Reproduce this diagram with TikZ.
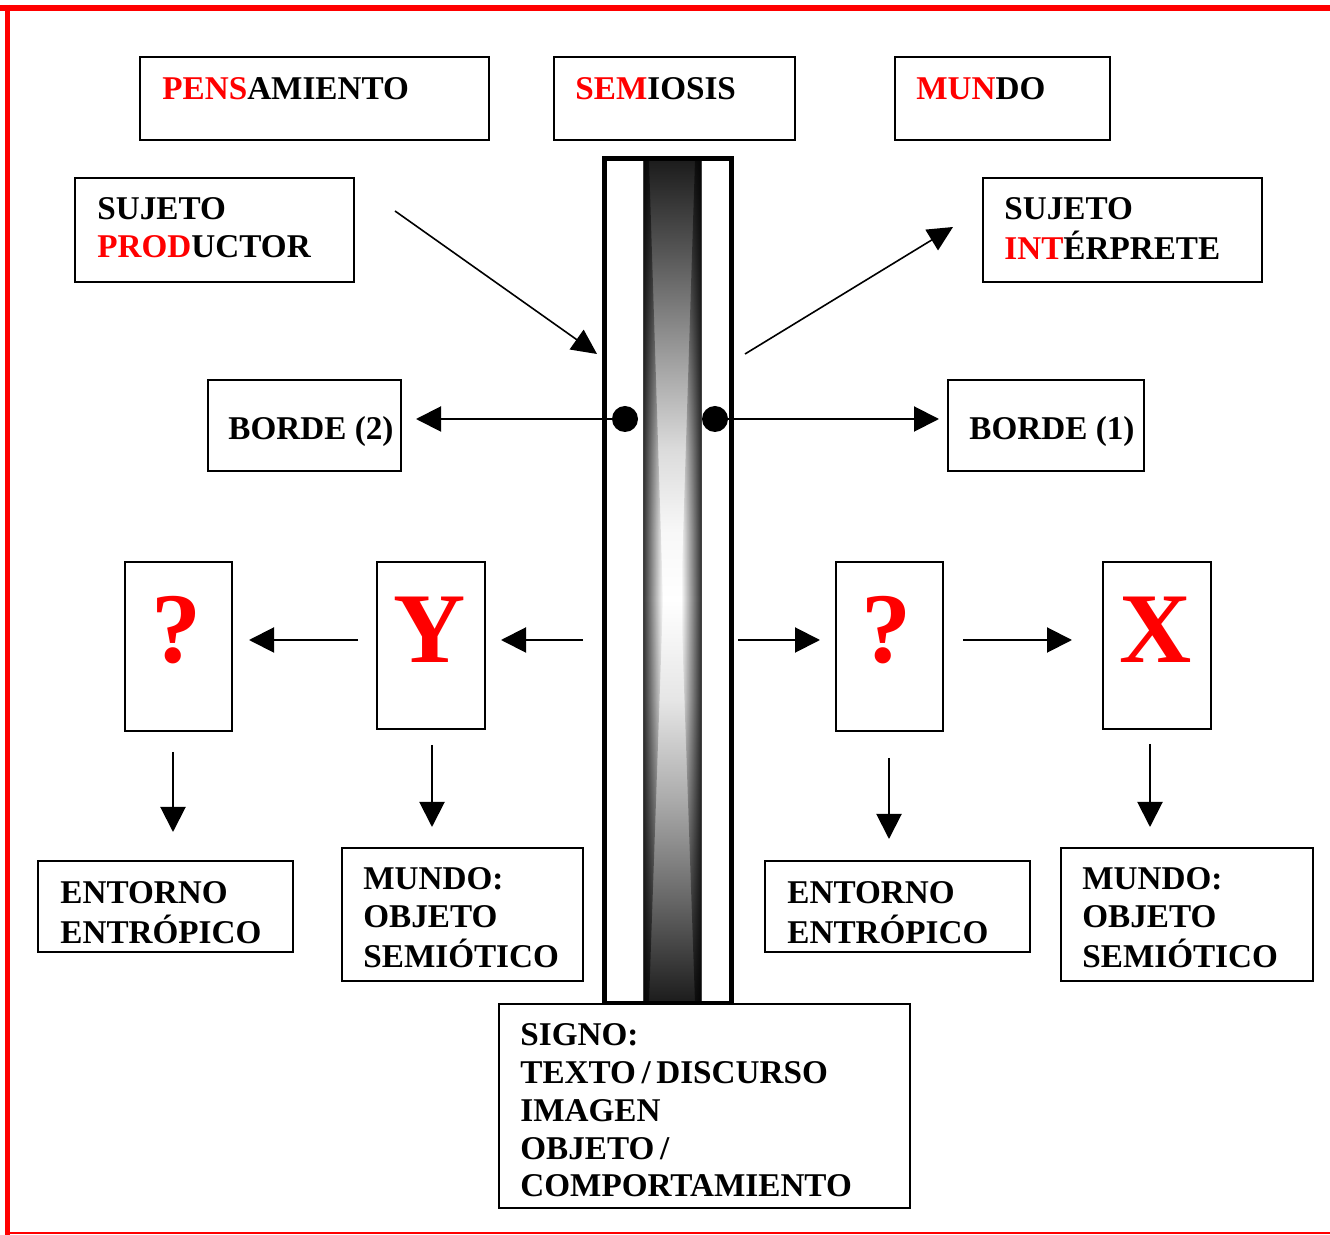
\documentclass[tikz,border=0pt]{standalone}
\usepackage{fontspec}
\setmainfont{Liberation Serif}
\usetikzlibrary{arrows.meta,fit,fadings}
\newcommand\mylines[1]{\begin{tabular}[t]{@{}l@{}}#1\end{tabular}}
\tikzfading[name=fadeR, left color=transparent!0, right color=transparent!100]
\tikzfading[name=fadeL, left color=transparent!100, right color=transparent!0]
\pgfdeclareverticalshading{barshade}{100bp}{color(0bp)=(black!89); color(25bp)=(black!89); color(31bp)=(black!60); color(37bp)=(black!33); color(42.9bp)=(black!10); color(48.9bp)=(white); color(53bp)=(black!3); color(57.8bp)=(black!14); color(63.7bp)=(black!40); color(69.7bp)=(black!67); color(75bp)=(black!89); color(100bp)=(black!89)}
\begin{document}
\begin{tikzpicture}[x=0.5pt,y=-0.5pt,
  box/.style={draw=black, line width=1pt, inner sep=0pt},
  txt/.style={anchor=base west, inner sep=0pt, font=\fontsize{16.6}{19}\selectfont\bfseries},
  big/.style={anchor=base, inner sep=0pt, text=red, font=\fontsize{50}{50}\selectfont\bfseries},
  arr/.style={line width=1pt, -{Triangle[length=12.5pt,width=12.5pt]}},
  thinarr/.style={line width=0.8pt, -{Triangle[length=12.5pt,width=12pt]}},
  dot/.style={circle, fill=black, inner sep=0pt, minimum size=13pt}]
\useasboundingbox (0,0) rectangle (1330,1235);
% frame
\draw[red, line width=3pt] (0,8) -- (1330,8);
\draw[red, line width=2.5pt] (7.5,5) -- (7.5,1235);
\draw[red, line width=1pt] (7.5,1233) -- (1330,1233);

% top boxes
\node[box, fit={(140,57) (489,140)}] (pens) {};
\node[txt] (pens-t) at (162,99.5) {\textcolor{red}{PENS}AMIENTO};
\node[box, fit={(554,57) (795,140)}] (semi) {};
\node[txt] (semi-t) at (575,99.5) {\textcolor{red}{SEM}IOSIS};
\node[box, fit={(895,57) (1110,140)}] (mundo) {};
\node[txt] (mundo-t) at (916,99.5) {\textcolor{red}{MUN}DO};

\node[box, fit={(75,178) (354,282)}] (prod) {};
\node[txt] (prod-t) at (97,220) {\mylines{SUJETO\\ \textcolor{red}{PROD}UCTOR}};
\node[box, fit={(983,178) (1262,282)}] (interp) {};
\node[txt] (interp-t) at (1004,220) {\mylines{SUJETO\\ \textcolor{red}{INT}ÉRPRETE}};

\node[box, fit={(208,380) (401,471)}] (b2) {};
\node[txt] (b2-t) at (228,440) {BORDE (2)};
\node[box, fit={(948,380) (1144,471)}] (b1) {};
\node[txt] (b1-t) at (969,440) {BORDE (1)};

% central bar
\shade[shading=barshade] (643,160) rectangle (701,1002);
\fill[black, path fading=fadeR, fill opacity=0.8] (643,160) -- (649,160) -- (663,600) -- (649,1002) -- (643,1002) -- cycle;
\fill[black, path fading=fadeL, fill opacity=0.8] (701,160) -- (695,160) -- (681,600) -- (695,1002) -- (701,1002) -- cycle;
\draw[black!75, line width=0.5pt] (643,160) rectangle (701,1002);
\node[draw, line width=2.5pt, inner sep=0pt, fit={(604.5,159) (731,1003)}] (bar) {};
\node[dot] (dotL) at (625,419) {};
\node[dot] (dotR) at (715,419) {};

% middle row boxes
\node[box, fit={(125,562) (232,731)}] (q1) {};
\node[big] (q1-t) at (176,663) {?};
\node[box, fit={(377,562) (485,729)}] (yb) {};
\node[big] (yb-t) at (430,663) {Y};
\node[box, fit={(836,562) (943,731)}] (q2) {};
\node[big] (q2-t) at (886,663) {?};
\node[box, fit={(1103,562) (1211,729)}] (xb) {};
\node[big] (xb-t) at (1156,663) {X};

% bottom boxes
\node[box, fit={(38,861) (293,952)}] (ent1) {};
\node[txt] (ent1-t) at (60,904) {\mylines{ENTORNO\\ ENTRÓPICO}};
\node[box, fit={(342,848) (583,981)}] (mos1) {};
\node[txt] (mos1-t) at (363,890) {\mylines{MUNDO:\\ OBJETO\\ SEMIÓTICO}};
\node[box, fit={(765,861) (1030,952)}] (ent2) {};
\node[txt] (ent2-t) at (787,904) {\mylines{ENTORNO\\ ENTRÓPICO}};
\node[box, fit={(1061,848) (1313,981)}] (mos2) {};
\node[txt] (mos2-t) at (1082,890) {\mylines{MUNDO:\\ OBJETO\\ SEMIÓTICO}};

\node[box, fill=white, fit={(499,1004) (910,1208)}] (signo) {};
\node[txt] (signo-t) at (520,1045) {\mylines{SIGNO:\\ TEXTO\,/\,DISCURSO\\ IMAGEN\\ OBJETO\,/\\ COMPORTAMIENTO}};

% connectors
\coordinate (dl1) at (395,211);
\coordinate (dl2) at (597,354);
\coordinate (dr1) at (745,354);
\coordinate (dr2) at (953,227);
\draw[thinarr] (dl1) -- (dl2);
\draw[thinarr] (dr1) -- (dr2);

\draw[arr, shorten >=7pt] (dotL) -- (b2.east |- dotL);
\draw[arr, shorten >=4pt] (dotR) -- (b1.west |- dotR);

\coordinate (hl) at (583,640);
\coordinate (hr) at (738,640);
\draw[arr, shorten >=7.5pt] (hl) -- (yb.east |- hl);
\draw[arr, shorten <=9pt, shorten >=8pt] (yb.west |- hl) -- (q1.east |- hl);
\draw[arr, shorten >=7.5pt] (hr) -- (q2.west |- hr);
\draw[arr, shorten <=9.5pt, shorten >=15pt] (q2.east |- hr) -- (xb.west |- hr);

\draw[arr, shorten <=10pt, shorten >=14pt] (q1.south -| 173,0) -- (ent1.north -| 173,0);
\draw[arr, shorten <=7.5pt, shorten >=10pt] (yb.south -| 432,0) -- (mos1.north -| 432,0);
\draw[arr, shorten <=13pt, shorten >=10.5pt] (q2.south -| 889,0) -- (ent2.north -| 889,0);
\draw[arr, shorten <=7pt, shorten >=10pt] (xb.south -| 1150,0) -- (mos2.north -| 1150,0);
\end{tikzpicture}
\end{document}
